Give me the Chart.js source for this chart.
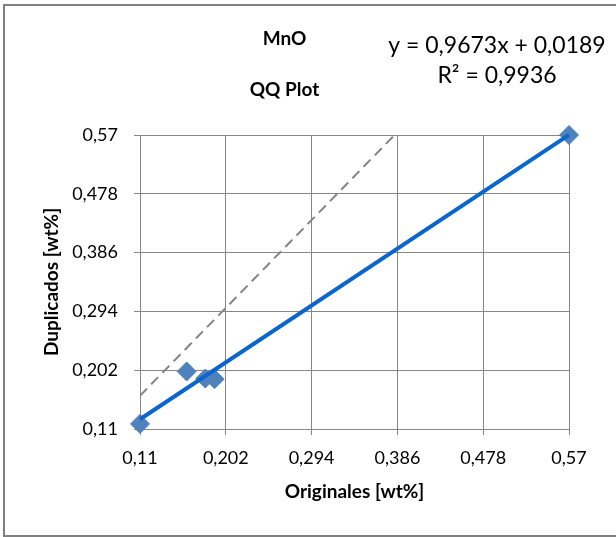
<!DOCTYPE html>
<html>
<head>
<meta charset="utf-8">
<script src="https://cdn.jsdelivr.net/npm/chart.js@4/dist/chart.umd.min.js"></script>
<style>
  html, body { margin: 0; padding: 0; background: #fff; }
  #wrap { width: 616px; height: 537px; position: relative; }
</style>
</head>
<body>
<div id="wrap"><canvas id="c" width="616" height="537"></canvas></div>
<script>
// ---- data ----
const originales = [0.11, 0.16, 0.18, 0.19, 0.57];
const duplicados = [0.118, 0.200, 0.189, 0.188, 0.57];
const trendSlope = 0.9673;
const trendIntercept = 0.0189;
const trendX = [0.11, 0.57];
const refLineX = [0.11, 0.383];
const refLineY = [0.162, 0.57];
const tickValues = [0.11, 0.202, 0.294, 0.386, 0.478, 0.57];
const tickLabels = ['0,11', '0,202', '0,294', '0,386', '0,478', '0,57'];
const chartTitle = ['MnO', 'QQ Plot'];
const equationLines = ['y = 0,9673x + 0,0189', 'R² = 0,9936'];
const xTitle = 'Originales [wt%]';
const yTitle = 'Duplicados [wt%]';

const FONT = 'Lato, "Open Sans", sans-serif';
const GRID = '#878787';

const pts = originales.map((x, i) => ({ x: x, y: duplicados[i] }));
const trend = trendX.map(x => ({ x: x, y: trendSlope * x + trendIntercept }));
const refLine = refLineX.map((x, i) => ({ x: x, y: refLineY[i] }));

function setTicks(scale) {
  scale.ticks = tickValues.map(v => ({ value: v }));
}
function labelFor(value) {
  const i = tickValues.findIndex(t => Math.abs(t - value) < 1e-9);
  return i >= 0 ? tickLabels[i] : '';
}

const frame = {
  id: 'frame',
  beforeDraw(chart) {
    const ctx = chart.ctx;
    ctx.save();
    ctx.fillStyle = '#fff';
    ctx.fillRect(0, 0, chart.width, chart.height);
    ctx.strokeStyle = '#808080';
    ctx.lineWidth = 2;
    ctx.strokeRect(4, 5, 630, 531);
    ctx.restore();
  },
  afterDraw(chart) {
    const ctx = chart.ctx;
    ctx.save();
    ctx.fillStyle = '#000';
    ctx.font = '23px ' + FONT;
    ctx.textAlign = 'center';
    ctx.textBaseline = 'middle';
    ctx.fillText(equationLines[0], 497, 46);
    ctx.fillText(equationLines[1], 497, 76);
    ctx.restore();
  }
};

new Chart(document.getElementById('c'), {
  type: 'scatter',
  data: {
    datasets: [
      {
        label: 'Tendencia',
        data: trend,
        showLine: true,
        borderColor: '#0A66CC',
        borderWidth: 4,
        pointRadius: 0,
        fill: false,
        clip: false
      },
      {
        label: 'MnO',
        data: pts,
        pointStyle: 'rectRot',
        pointRadius: 9.5,
        pointBackgroundColor: '#4F81BD',
        pointBorderColor: '#4F81BD',
        pointBorderWidth: 1,
        showLine: false,
        clip: false
      },
      {
        label: '1:1',
        data: refLine,
        showLine: true,
        borderColor: '#848484',
        borderWidth: 2,
        borderDash: [10, 6],
        pointRadius: 0,
        fill: false
      }
    ]
  },
  options: {
    responsive: false,
    animation: false,
    devicePixelRatio: 1,
    layout: { padding: { left: 0, right: 47, top: 0, bottom: 0 } },
    plugins: {
      legend: { display: false },
      tooltip: { enabled: false },
      title: {
        display: true,
        text: chartTitle,
        color: '#000',
        font: { family: FONT, size: 19, weight: 'bold', lineHeight: '51px' },
        padding: { top: 13, bottom: 20 }
      }
    },
    scales: {
      x: {
        type: 'linear',
        min: 0.11,
        max: 0.57,
        afterBuildTicks: setTicks,
        afterFit(scale) { scale.height = 108; },
        grid: { color: GRID, lineWidth: 1, drawTicks: true, tickLength: 6, tickColor: GRID },
        border: { color: GRID, width: 1 },
        ticks: {
          color: '#000',
          padding: 12,
          font: { family: FONT, size: 18 },
          maxRotation: 0,
          autoSkip: false,
          callback: (v) => labelFor(v)
        },
        title: {
          display: true,
          text: xTitle,
          color: '#000',
          font: { family: FONT, size: 19, weight: 'bold' },
          padding: { top: 0, bottom: 34 }
        }
      },
      y: {
        type: 'linear',
        min: 0.11,
        max: 0.57,
        afterBuildTicks: setTicks,
        afterFit(scale) { scale.width = 140; },
        grid: { color: GRID, lineWidth: 1, drawTicks: true, tickLength: 6, tickColor: GRID },
        border: { color: GRID, width: 1 },
        ticks: {
          color: '#000',
          padding: 16,
          font: { family: FONT, size: 18 },
          autoSkip: false,
          callback: (v) => labelFor(v)
        },
        title: {
          display: true,
          text: yTitle,
          color: '#000',
          font: { family: FONT, size: 19, weight: 'bold' },
          padding: { top: 40, bottom: 0 }
        }
      }
    }
  },
  plugins: [frame]
});
</script>
</body>
</html>
